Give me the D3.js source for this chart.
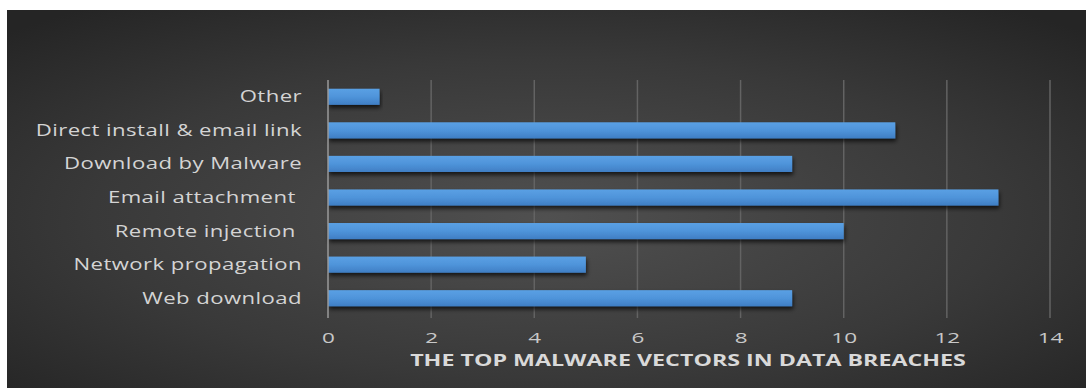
<!DOCTYPE html>
<html><head><meta charset="utf-8">
<script src="https://cdn.jsdelivr.net/npm/d3@7"></script>
<style>html,body{margin:0;padding:0;background:#fff;}svg{display:block;}</style>
</head><body>
<svg id="chart" width="1086" height="388"></svg>
<script>
const categories = ["Other","Direct install & email link","Download by Malware","Email attachment ","Remote injection ","Network propagation","Web download"];
const values = [1, 11, 9, 13, 10, 5, 9];
const xTicks = [0, 2, 4, 6, 8, 10, 12, 14];
const axisTitle = "THE TOP MALWARE VECTORS IN DATA BREACHES";

const svg = d3.select("#chart");
const W = 1086, H = 388;
const defs = svg.append("defs");
const rg = defs.append("radialGradient").attr("id","bg").attr("cx","0.5").attr("cy","0.55").attr("r","0.7");
rg.append("stop").attr("offset","0%").attr("stop-color","#505050");
rg.append("stop").attr("offset","60%").attr("stop-color","#393939");
rg.append("stop").attr("offset","100%").attr("stop-color","#252525");
const bg = defs.append("linearGradient").attr("id","bar").attr("x1",0).attr("y1",0).attr("x2",0).attr("y2",1);
bg.append("stop").attr("offset","0%").attr("stop-color","#5aa0e4");
bg.append("stop").attr("offset","50%").attr("stop-color","#4f94da");
bg.append("stop").attr("offset","100%").attr("stop-color","#3f7ec4");
const f = defs.append("filter").attr("id","sh").attr("x","-5%").attr("y","-30%").attr("width","110%").attr("height","180%");
f.append("feDropShadow").attr("dx",1).attr("dy",3).attr("stdDeviation",2).attr("flood-color","#000").attr("flood-opacity",0.7);

svg.append("rect").attr("x",7).attr("y",10).attr("width",W-7).attr("height",H-10).attr("fill","url(#bg)");

const x = d3.scaleLinear().domain([0,14]).range([328,1050]);
const y = d3.scaleBand().domain(categories).range([80,315]).paddingInner(0.52).paddingOuter(0.26);

// gridlines
svg.append("g").selectAll("line").data(xTicks.filter(d=>d>0)).join("line")
  .attr("x1",d=>x(d)).attr("x2",d=>x(d)).attr("y1",80).attr("y2",318)
  .attr("stroke","#636363").attr("stroke-width",1.5);

// bars
svg.append("g").selectAll("rect").data(values).join("rect")
  .attr("x",x(0)).attr("y",(d,i)=>y(categories[i]))
  .attr("width",d=>x(d)-x(0)).attr("height",y.bandwidth())
  .attr("fill","url(#bar)").attr("filter","url(#sh)");

// y axis line
svg.append("line").attr("x1",x(0)).attr("x2",x(0)).attr("y1",80).attr("y2",318)
  .attr("stroke","#9a9a9a").attr("stroke-width",1.5);

const font = "'Open Sans', 'Noto Sans', sans-serif";
// category labels (horizontally stretched like the reference)
svg.append("g").selectAll("text").data(categories).join("text")
  .attr("transform",d=>`translate(302,${y(d)+y.bandwidth()/2}) scale(1.43,1)`)
  .attr("dy","0.35em")
  .attr("text-anchor","end").attr("fill","#d4d4d4")
  .style("white-space","pre")
  .style("font-family",font).style("font-size","15.5px").style("letter-spacing","0.3px")
  .text(d=>d);

// x tick labels
const xAxis = d3.axisBottom(x).tickValues(xTicks).tickSize(0).tickPadding(0);
const gx = svg.append("g").attr("transform","translate(0,332)").call(xAxis);
gx.select(".domain").remove();
gx.selectAll("text").attr("fill","#c8c8c8").style("font-family",font).style("font-size","15px")
  .attr("dy","0.7em").attr("transform","scale(1.5,1)");

// axis title
svg.append("text").attr("transform","translate(688,366) scale(1.5,1)").attr("text-anchor","middle")
  .attr("fill","#d9d9d9").style("font-family",font).style("font-size","15.5px").style("font-weight","bold")
  .text(axisTitle);
</script>
</body></html>
